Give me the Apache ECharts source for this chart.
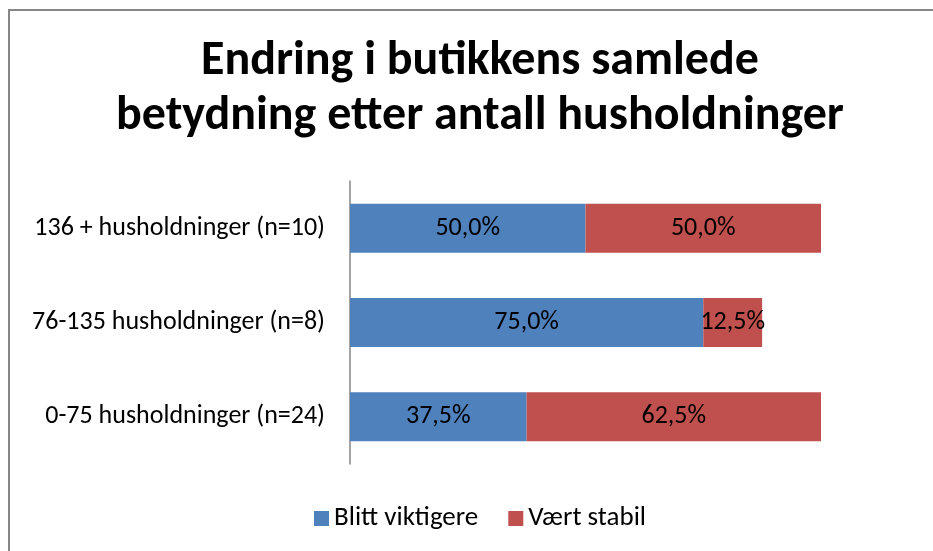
<!DOCTYPE html>
<html>
<head>
<meta charset="utf-8">
<script src="https://cdn.jsdelivr.net/npm/echarts@6/dist/echarts.min.js"></script>
<style>
html,body{margin:0;padding:0;background:#fff;}
#chart{width:933px;height:551px;}
</style>
</head>
<body>
<div id="chart"></div>
<script>
const titleText = 'Endring i butikkens samlede\nbetydning etter antall husholdninger';
const categories = ['0-75 husholdninger (n=24)', '76-135 husholdninger (n=8)', '136 + husholdninger (n=10)'];
const seriesNames = ['Blitt viktigere', 'Vært stabil'];
const blittViktigere = [37.5, 75.0, 50.0];
const vaertStabil = [62.5, 12.5, 50.0];

const FONT = 'Carlito, Lato, "Open Sans", sans-serif';
const fmt = p => p.value.toFixed(1).replace('.', ',') + '%';

const chart = echarts.init(document.getElementById('chart'), null, {renderer: 'canvas'});
chart.setOption({
  animation: false,
  backgroundColor: '#ffffff',
  color: ['#4F81BD', '#C0504D'],
  graphic: [{
    type: 'rect',
    shape: {x: 9, y: 10, width: 1000, height: 1000},
    style: {fill: 'none', stroke: '#868686', lineWidth: 2},
    silent: true
  }],
  title: {
    text: titleText,
    left: 475,
    textAlign: 'center',
    top: 29,
    textStyle: {fontFamily: FONT, fontWeight: 'bold', fontSize: 48, lineHeight: 55, color: '#000'}
  },
  legend: {
    top: 500,
    left: 309,
    itemWidth: 15,
    itemHeight: 15,
    itemGap: 30,
    icon: 'rect',
    textStyle: {fontFamily: FONT, fontSize: 27, color: '#000'},
    data: seriesNames
  },
  grid: {left: 350, right: 112, top: 181, bottom: 87, containLabel: false},
  xAxis: {
    type: 'value', min: 0, max: 100,
    show: false,
    splitLine: {show: false}
  },
  yAxis: {
    type: 'category',
    data: categories,
    axisLine: {show: true, lineStyle: {color: '#868686', width: 1.5}},
    axisTick: {show: false},
    axisLabel: {fontFamily: FONT, fontSize: 26, color: '#000', margin: 25}
  },
  series: [
    {
      name: seriesNames[0], type: 'bar', stack: 'total', barWidth: 49,
      data: blittViktigere,
      label: {show: true, position: 'inside', formatter: fmt, fontFamily: FONT, fontSize: 26, color: '#000'}
    },
    {
      name: seriesNames[1], type: 'bar', stack: 'total', barWidth: 49,
      data: vaertStabil,
      label: {show: true, position: 'inside', formatter: fmt, fontFamily: FONT, fontSize: 26, color: '#000'}
    }
  ]
});
</script>
</body>
</html>
